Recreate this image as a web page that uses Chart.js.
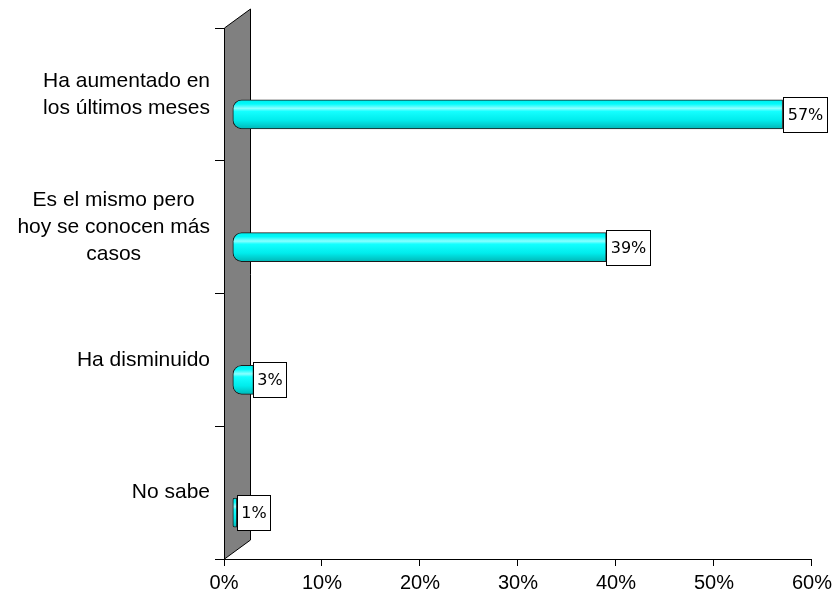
<!DOCTYPE html>
<html><head><meta charset="utf-8">
<script src="https://cdn.jsdelivr.net/npm/chart.js@4.4.0/dist/chart.umd.min.js"></script>
<style>html,body{margin:0;padding:0;background:#fff;}#wrap{width:837px;height:594px;}</style>
</head><body><div id="wrap"><canvas id="c" width="837" height="594"></canvas></div>
<script>
const categories = [["Ha aumentado en","los últimos meses"],["Es el mismo pero","hoy se conocen más","casos"],["Ha disminuido"],["No sabe"]];
const values = [57, 39, 3, 1];
const valueLabels = ["57%", "39%", "3%", "1%"];
const xMin = 0, xMax = 60, xStep = 10;

const DEPTH_X = 26, DEPTH_Y = 19, BAR_DY = 20;

function barGradient(ctx) {
  const chart = ctx.chart;
  const ys = chart.scales && chart.scales.y;
  if (!ys || ctx.dataIndex === undefined) return '#00ffff';
  const yc = ys.getPixelForValue(ctx.dataIndex);
  if (!isFinite(yc)) return '#00ffff';
  const g = chart.ctx.createLinearGradient(0, yc - 15, 0, yc + 15);
  g.addColorStop(0, '#00eaea');
  g.addColorStop(0.15, '#00fafa');
  g.addColorStop(0.3, '#8cffff');
  g.addColorStop(0.4, '#14ffff');
  g.addColorStop(0.7, '#00ecec');
  g.addColorStop(1, '#00b4b4');
  return g;
}

const deco = {
  id: 'deco',
  beforeDatasetsDraw(chart) {
    const {ctx, chartArea: a, scales: {x}} = chart;
    const x0 = x.getPixelForValue(0);
    ctx.save();
    ctx.beginPath();
    ctx.moveTo(x0 + 0.5, a.top);
    ctx.lineTo(x0 + DEPTH_X + 0.5, a.top - DEPTH_Y);
    ctx.lineTo(x0 + DEPTH_X + 0.5, a.bottom - DEPTH_Y);
    ctx.lineTo(x0 + 0.5, a.bottom);
    ctx.closePath();
    ctx.fillStyle = '#808080';
    ctx.fill();
    ctx.strokeStyle = '#000';
    ctx.lineWidth = 1;
    ctx.stroke();
    ctx.restore();
    ctx.save();
    ctx.translate(0, BAR_DY);
  },
  afterDatasetsDraw(chart) {
    const {ctx} = chart;
    ctx.restore();
    const meta = chart.getDatasetMeta(0);
    ctx.save();
    ctx.font = '16px "DejaVu Sans"';
    ctx.textAlign = 'center';
    ctx.textBaseline = 'middle';
    meta.data.forEach((el, i) => {
      const t = valueLabels[i];
      const tw = ctx.measureText(t).width;
      const w = Math.round(tw + 8), h = 35;
      const left = Math.round(el.x) + 0.5;
      const top = Math.round(el.y + BAR_DY - h / 2) + 0.5;
      ctx.fillStyle = '#fff';
      ctx.fillRect(left, top, w, h);
      ctx.strokeStyle = '#000';
      ctx.lineWidth = 1;
      ctx.strokeRect(left, top, w, h);
      ctx.fillStyle = '#000';
      ctx.fillText(t, left + w / 2, top + h / 2 + 1);
    });
    ctx.restore();
    // category labels
    const ys = chart.scales.y;
    ctx.save();
    ctx.font = '21px "Liberation Sans", Arial, sans-serif';
    ctx.fillStyle = '#000';
    ctx.textAlign = 'center';
    ctx.textBaseline = 'middle';
    const lh = 27.3, rightEdge = 210;
    categories.forEach((lines, i) => {
      const yc = ys.getPixelForValue(i);
      const mw = Math.max(...lines.map(l => ctx.measureText(l).width));
      const cx = rightEdge - mw / 2;
      lines.forEach((l, j) => {
        ctx.fillText(l, cx, yc + (j - (lines.length - 1) / 2) * lh);
      });
    });
    ctx.restore();
  }
};

new Chart(document.getElementById('c'), {
  type: 'bar',
  data: {
    labels: categories.map(l => l.join(' ')),
    datasets: [{
      data: values,
      base: 0.9,
      minBarLength: 4,
      backgroundColor: barGradient,
      borderColor: '#1a1a1a',
      borderWidth: 1,
      borderSkipped: false,
      borderRadius: {topLeft: 9, bottomLeft: 9, topRight: 0, bottomRight: 0},
      barThickness: 29,
      clip: false
    }]
  },
  options: {
    indexAxis: 'y',
    responsive: false,
    devicePixelRatio: 1,
    animation: false,
    layout: {padding: {top: 28, right: 23, left: 0, bottom: 0}},
    plugins: {legend: {display: false}, tooltip: {enabled: false}},
    scales: {
      x: {
        type: 'linear', min: xMin, max: xMax,
        ticks: {stepSize: xStep, callback: v => v + '%', color: '#000',
                font: {family: '"Liberation Sans", Arial, sans-serif', size: 20}, padding: 5, maxRotation: 0},
        grid: {drawOnChartArea: false, tickLength: 7, color: '#000'},
        border: {color: '#000'},
        afterFit: s => { s.height = 35; }
      },
      y: {
        type: 'category',
        ticks: {display: false},
        grid: {drawOnChartArea: false, tickLength: 9, color: '#000', offset: true},
        border: {color: '#000'},
        afterFit: s => { s.width = 224; }
      }
    }
  },
  plugins: [deco]
});
</script>
</body></html>
